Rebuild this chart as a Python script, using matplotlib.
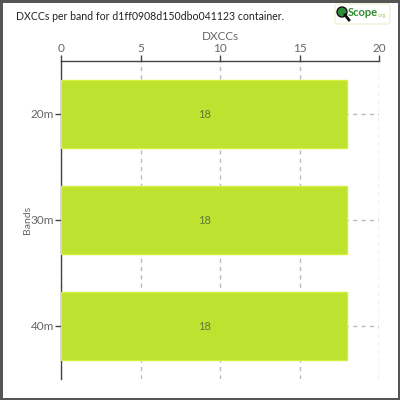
import matplotlib.pyplot as plt
from matplotlib.patches import FancyBboxPatch, Circle

plt.rcParams['font.family'] = ['Lato', 'DejaVu Sans']

bands = ['20m', '30m', '40m']
dxccs = [18, 18, 18]
x_ticks = [0, 5, 10, 15, 20]

bar_color = '#bde22f'
text_grey = '#666666'

fig = plt.figure(figsize=(4, 4), dpi=100)
fig.patch.set_facecolor('white')
fig.patch.set_edgecolor('#555555')
fig.patch.set_linewidth(2.5)

ax = fig.add_axes([61 / 400, 21 / 400, 318 / 400, 318 / 400])

ypos = list(range(len(bands)))
ax.barh(ypos, dxccs, height=0.64, color=bar_color, edgecolor='#d6ee3c',
        linewidth=1, zorder=3)
for y, v in zip(ypos, dxccs):
    ax.text(v / 2, y, str(v), ha='center', va='center', fontsize=8,
            color='#5d7a3a', zorder=4)

ax.set_xlim(0, 20)
ax.set_ylim(len(bands) - 0.5, -0.5)
ax.set_xticks(x_ticks)
ax.set_yticks(ypos)
ax.set_yticklabels(bands)
ax.xaxis.tick_top()
ax.xaxis.set_label_position('top')
ax.set_xlabel('DXCCs', fontsize=8.5, color=text_grey, labelpad=2)
ax.set_ylabel('Bands', fontsize=7.5, color=text_grey)
ax.yaxis.set_label_coords(-0.09, 0.5)
ax.tick_params(axis='both', colors='#444444', labelcolor=text_grey,
               labelsize=8.5, length=4, width=1, pad=1)

ax.grid(True, linestyle=(0, (3, 3)), color='#bbbbbb', linewidth=1, zorder=0)
ax.set_axisbelow(True)
for side in ['right', 'bottom']:
    ax.spines[side].set_visible(False)
for side in ['top', 'left']:
    ax.spines[side].set_color('#444444')
    ax.spines[side].set_linewidth(1)

fig.text(16 / 400, 1 - 17 / 400, 'DXCCs per band for d1ff0908d150dbo041123 container.',
         fontsize=7.6, color='#222222', va='center', ha='left')

# logo
logo = FancyBboxPatch((335 / 400, 1 - 24 / 400), 55 / 400, 20 / 400,
                      boxstyle='round,pad=0,rounding_size=0.008',
                      transform=fig.transFigure, facecolor='white',
                      edgecolor='#eef3d8', linewidth=1)
fig.patches.append(logo)
fig.patches.append(Circle((342 / 400, 1 - 12 / 400), 5 / 400,
                          transform=fig.transFigure, facecolor='#2e8b3a',
                          edgecolor='#111111', linewidth=1))
fig.lines.append(plt.Line2D([345 / 400, 349 / 400], [1 - 15 / 400, 1 - 20 / 400],
                            transform=fig.transFigure, color='#111111', linewidth=2))
fig.text(348 / 400, 1 - 12 / 400, 'Scope', fontsize=8, color='#2e8b2e',
         fontweight='bold', va='center', ha='left')
fig.text(378 / 400, 1 - 15 / 400, '.org', fontsize=3.5, color='#9ccc50',
         va='center', ha='left')

fig.savefig('out.png', dpi=100, facecolor=fig.get_facecolor(),
            edgecolor=fig.get_edgecolor())
